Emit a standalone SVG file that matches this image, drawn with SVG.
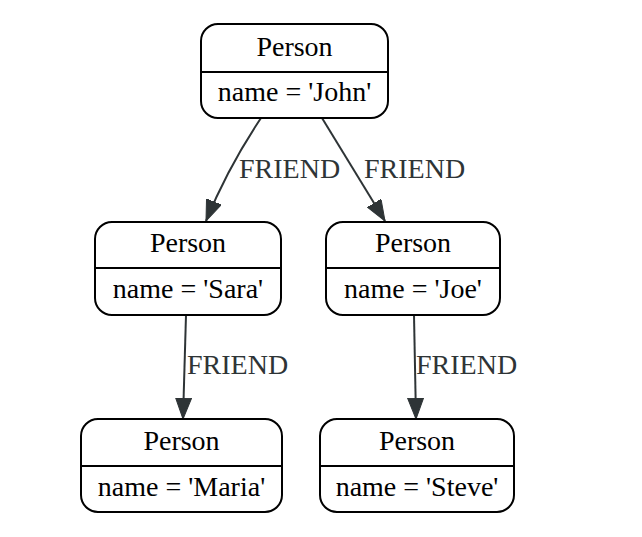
<svg xmlns="http://www.w3.org/2000/svg" width="642" height="537" viewBox="0 0 642 537">
<style>
.box{fill:#fff;stroke:#000;stroke-width:2}
.div{stroke:#000;stroke-width:2}
.t{font-family:"Liberation Serif","Times New Roman",serif;font-size:28px;fill:#000;text-anchor:middle}
.e{fill:none;stroke:#2e3436;stroke-width:2}
.lbl{font-family:"Liberation Serif","Times New Roman",serif;font-size:28px;fill:#2e3436}
</style>
<defs>
<marker id="arr" markerWidth="22" markerHeight="18" refX="21" refY="8" orient="auto" markerUnits="userSpaceOnUse">
<path d="M0,0 L21,8 L0,16 Z" fill="#2e3436" stroke="#2e3436" stroke-width="1"/>
</marker>
</defs>
<rect width="642" height="537" fill="#fff"/>
<g id="connectors">
<path class="e" d="M261,118 C247,139 226,172 206,221" marker-end="url(#arr)"/>
<path class="e" d="M322,118 C340,147 362,183 385,221" marker-end="url(#arr)"/>
<path class="e" d="M186,315 L183,419" marker-end="url(#arr)"/>
<path class="e" d="M414,315 L416,419" marker-end="url(#arr)"/>
<text class="lbl" x="239" y="178">FRIEND</text>
<text class="lbl" x="364" y="178">FRIEND</text>
<text class="lbl" x="187" y="374">FRIEND</text>
<text class="lbl" x="416" y="374">FRIEND</text>
</g>
<g id="john">
<rect class="box" x="201" y="24" width="187" height="94" rx="17"/>
<line class="div" x1="201" y1="72" x2="388" y2="72"/>
<text class="t" x="294.5" y="56">Person</text>
<text class="t" x="294.5" y="101">name = 'John'</text>
</g>
<g id="sara">
<rect class="box" x="95" y="222" width="186" height="93" rx="17"/>
<line class="div" x1="95" y1="268" x2="281" y2="268"/>
<text class="t" x="188" y="252">Person</text>
<text class="t" x="188" y="298">name = 'Sara'</text>
</g>
<g id="joe">
<rect class="box" x="326" y="222" width="174" height="93" rx="17"/>
<line class="div" x1="326" y1="268" x2="500" y2="268"/>
<text class="t" x="413" y="252">Person</text>
<text class="t" x="413" y="298">name = 'Joe'</text>
</g>
<g id="maria">
<rect class="box" x="81" y="419" width="201" height="93" rx="17"/>
<line class="div" x1="81" y1="466" x2="282" y2="466"/>
<text class="t" x="181.5" y="450">Person</text>
<text class="t" x="181.5" y="496">name = 'Maria'</text>
</g>
<g id="steve">
<rect class="box" x="320" y="419" width="194" height="93" rx="17"/>
<line class="div" x1="320" y1="466" x2="514" y2="466"/>
<text class="t" x="417" y="450">Person</text>
<text class="t" x="417" y="496">name = 'Steve'</text>
</g>
</svg>
